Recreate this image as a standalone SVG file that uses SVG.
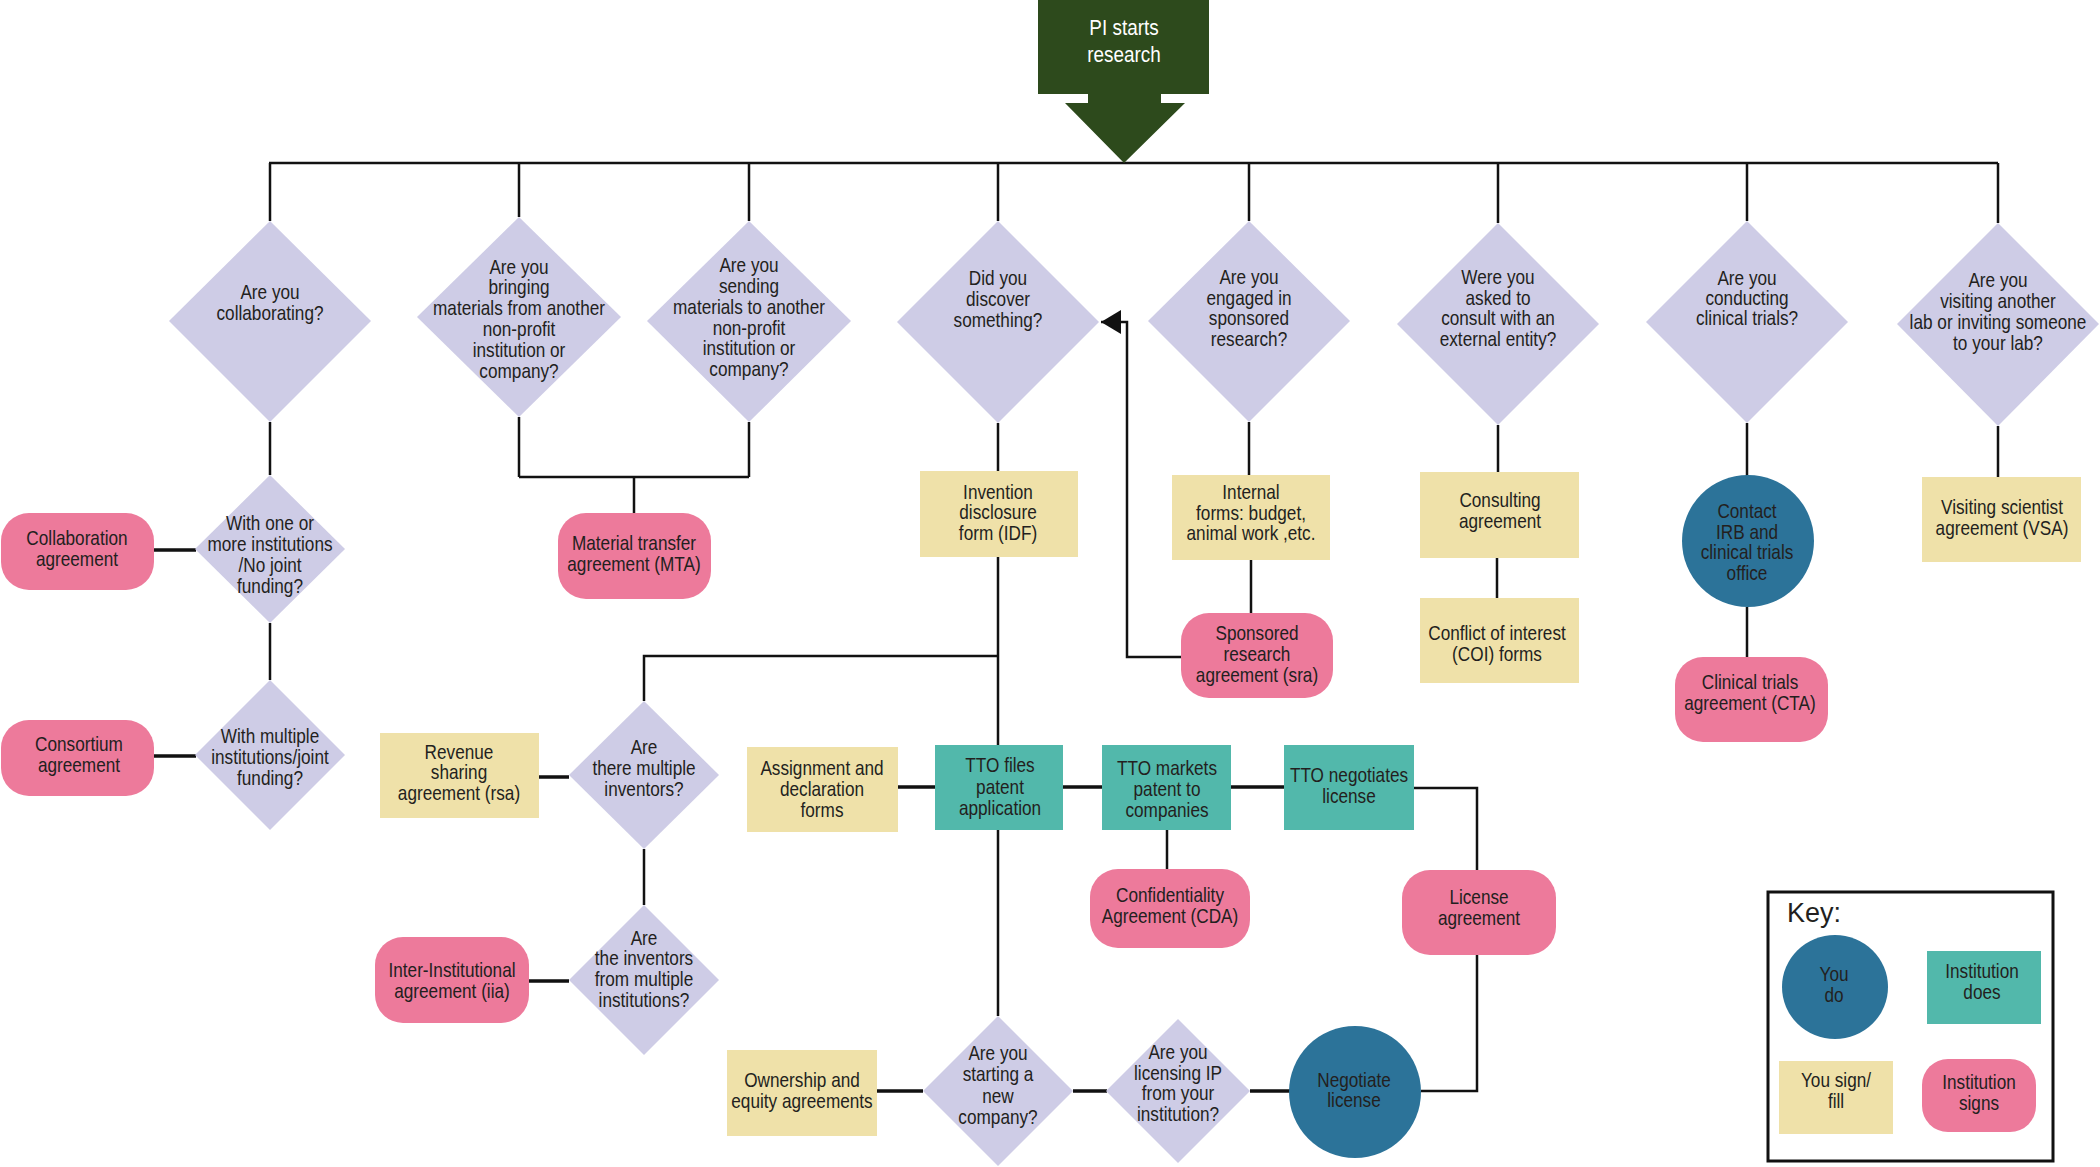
<svg xmlns="http://www.w3.org/2000/svg" width="2100" height="1167" viewBox="0 0 2100 1167">
<style>
text{font-family:"Liberation Sans",Arial,sans-serif;font-size:20px;fill:#231f20;text-anchor:middle}
.q{fill:#cecce6}
.p{fill:#ed7a9b}
.b{fill:#efe1a9}
.t{fill:#52b8ab}
.c{fill:#2c7399}
.ln{stroke:#111;stroke-width:2.5;fill:none}
.sh{stroke:#111;stroke-width:3.5;fill:none}
.w{fill:#fff;font-size:22px}
</style>
<defs>
<marker id="ah" markerUnits="userSpaceOnUse" markerWidth="22" markerHeight="24" refX="20" refY="12" orient="auto">
<path d="M0,0 L20,12 L0,24 Z" fill="#111"/>
</marker>
</defs>

<g id="connectors">
<path class="ln" d="M269,163 H1998"/>
<path class="ln" d="M270,163 V221 M519,163 V217 M749,163 V221 M998,163 V221 M1249,163 V221 M1498,163 V223 M1747,163 V221 M1998,163 V223"/>
<path class="ln" d="M270,422 V475 M270,623 V680"/>
<path class="sh" d="M154,550 H196 M154,756 H196"/>
<path class="ln" d="M519,417 V477 M749,422 V477 M519,477 H749 M634,477 V513"/>
<path class="ln" d="M998,423 V471 M998,557 V1016 M998,656 H644 V701 M644,849 V905"/>
<path class="sh" d="M539,777 H569 M529,981 H569 M898,787 H935 M1063,787 H1102 M1231,787 H1284 M877,1091 H923 M1073,1091 H1107 M1250,1091 H1290"/>
<path class="ln" d="M1414,788 H1477 V870 M1477,955 V1091 H1421 M1167,830 V869"/>
<path class="ln" d="M1249,422 V475 M1251,560 V613"/>
<path class="ln" d="M1181,657 H1127 V322 H1101" marker-end="url(#ah)"/>
<path class="ln" d="M1498,425 V472 M1497,558 V598 M1747,423 V476 M1747,607 V657 M1998,426 V477"/>
</g>

<g id="n_pi">
<rect x="1038" y="0" width="171" height="94" fill="#2d4a1c"/>
<polygon points="1088,93 1161,93 1161,103 1185,103 1124,163 1065,103 1088,103" fill="#2d4a1c"/>
<text class="w" transform="translate(1124 0) scale(.86 1)"><tspan x="0" y="35">PI  starts</tspan><tspan x="0" y="62">research</tspan></text>
</g>

<g id="d_collab"><polygon class="q" points="270,221 371,321 270,422 169,321"/>
<text transform="translate(270 0) scale(.86 1)"><tspan x="0" y="299">Are you</tspan><tspan x="0" y="320">collaborating?</tspan></text></g>

<g id="d_bring"><polygon class="q" points="519,217 621,317 519,417 417,317"/>
<text transform="translate(519 0) scale(.86 1)"><tspan x="0" y="274">Are you</tspan><tspan x="0" y="294">bringing</tspan><tspan x="0" y="315">materials from another</tspan><tspan x="0" y="336">non-profit</tspan><tspan x="0" y="357">institution or</tspan><tspan x="0" y="378">company?</tspan></text></g>

<g id="d_send"><polygon class="q" points="749,221 851,321 749,422 647,321"/>
<text transform="translate(749 0) scale(.86 1)"><tspan x="0" y="272">Are you</tspan><tspan x="0" y="293">sending</tspan><tspan x="0" y="314">materials to another</tspan><tspan x="0" y="335">non-profit</tspan><tspan x="0" y="355">institution or</tspan><tspan x="0" y="376">company?</tspan></text></g>

<g id="d_discover"><polygon class="q" points="998,221 1099,322 998,423 897,322"/>
<text transform="translate(998 0) scale(.86 1)"><tspan x="0" y="285">Did you</tspan><tspan x="0" y="306">discover</tspan><tspan x="0" y="327">something?</tspan></text></g>

<g id="d_sponsored"><polygon class="q" points="1249,221 1350,321 1249,422 1148,321"/>
<text transform="translate(1249 0) scale(.86 1)"><tspan x="0" y="284">Are you</tspan><tspan x="0" y="305">engaged in</tspan><tspan x="0" y="325">sponsored</tspan><tspan x="0" y="346">research?</tspan></text></g>

<g id="d_consult"><polygon class="q" points="1498,223 1599,324 1498,425 1397,324"/>
<text transform="translate(1498 0) scale(.86 1)"><tspan x="0" y="284">Were you</tspan><tspan x="0" y="305">asked to</tspan><tspan x="0" y="325">consult with an</tspan><tspan x="0" y="346">external entity?</tspan></text></g>

<g id="d_clinical"><polygon class="q" points="1747,221 1848,322 1747,423 1646,322"/>
<text transform="translate(1747 0) scale(.86 1)"><tspan x="0" y="285">Are you</tspan><tspan x="0" y="305">conducting</tspan><tspan x="0" y="325">clinical trials?</tspan></text></g>

<g id="d_visiting"><polygon class="q" points="1998,223 2099,324 1998,426 1897,324"/>
<text transform="translate(1998 0) scale(.86 1)"><tspan x="0" y="287">Are you</tspan><tspan x="0" y="308">visiting another</tspan><tspan x="0" y="329">lab or inviting someone</tspan><tspan x="0" y="350">to your lab?</tspan></text></g>

<g id="d_oneormore"><polygon class="q" points="270,475 345,549 270,623 195,549"/>
<text transform="translate(270 0) scale(.86 1)"><tspan x="0" y="530">With one or</tspan><tspan x="0" y="551">more institutions</tspan><tspan x="0" y="572">/No joint</tspan><tspan x="0" y="593">funding?</tspan></text></g>

<g id="d_multiple"><polygon class="q" points="270,680 345,755 270,830 195,755"/>
<text transform="translate(270 0) scale(.86 1)"><tspan x="0" y="743">With multiple</tspan><tspan x="0" y="764">institutions/joint</tspan><tspan x="0" y="785">funding?</tspan></text></g>

<g id="n_collab"><rect class="p" x="1" y="513" width="153" height="77" rx="28"/>
<text transform="translate(77 0) scale(.86 1)"><tspan x="0" y="545">Collaboration</tspan><tspan x="0" y="566">agreement</tspan></text></g>

<g id="n_consortium"><rect class="p" x="1" y="720" width="153" height="76" rx="28"/>
<text transform="translate(79 0) scale(.86 1)"><tspan x="0" y="751">Consortium</tspan><tspan x="0" y="772">agreement</tspan></text></g>

<g id="n_mta"><rect class="p" x="558" y="513" width="153" height="86" rx="28"/>
<text transform="translate(634 0) scale(.86 1)"><tspan x="0" y="550">Material transfer</tspan><tspan x="0" y="571">agreement (MTA)</tspan></text></g>

<g id="n_idf"><rect class="b" x="920" y="471" width="158" height="86"/>
<text transform="translate(998 0) scale(.86 1)"><tspan x="0" y="499">Invention</tspan><tspan x="0" y="519">disclosure</tspan><tspan x="0" y="540">form (IDF)</tspan></text></g>

<g id="d_inventors"><polygon class="q" points="644,701 719,775 644,849 569,775"/>
<text transform="translate(644 0) scale(.86 1)"><tspan x="0" y="754">Are</tspan><tspan x="0" y="775">there multiple</tspan><tspan x="0" y="796">inventors?</tspan></text></g>

<g id="n_rsa"><rect class="b" x="380" y="733" width="159" height="85"/>
<text transform="translate(459 0) scale(.86 1)"><tspan x="0" y="759">Revenue</tspan><tspan x="0" y="779">sharing</tspan><tspan x="0" y="800">agreement (rsa)</tspan></text></g>

<g id="d_instinv"><polygon class="q" points="644,905 719,980 644,1055 569,980"/>
<text transform="translate(644 0) scale(.86 1)"><tspan x="0" y="945">Are</tspan><tspan x="0" y="965">the inventors</tspan><tspan x="0" y="986">from multiple</tspan><tspan x="0" y="1007">institutions?</tspan></text></g>

<g id="n_iia"><rect class="p" x="375" y="937" width="154" height="86" rx="28"/>
<text transform="translate(452 0) scale(.86 1)"><tspan x="0" y="977">Inter-Institutional</tspan><tspan x="0" y="998">agreement (iia)</tspan></text></g>

<g id="n_assign"><rect class="b" x="747" y="747" width="151" height="85"/>
<text transform="translate(822 0) scale(.86 1)"><tspan x="0" y="775">Assignment and</tspan><tspan x="0" y="796">declaration</tspan><tspan x="0" y="817">forms</tspan></text></g>

<g id="n_ttofiles"><rect class="t" x="935" y="745" width="128" height="85"/>
<text transform="translate(1000 0) scale(.86 1)"><tspan x="0" y="772">TTO files</tspan><tspan x="0" y="794">patent</tspan><tspan x="0" y="815">application</tspan></text></g>

<g id="n_ttomarkets"><rect class="t" x="1102" y="745" width="129" height="85"/>
<text transform="translate(1167 0) scale(.86 1)"><tspan x="0" y="775">TTO markets</tspan><tspan x="0" y="796">patent to</tspan><tspan x="0" y="817">companies</tspan></text></g>

<g id="n_ttoneg"><rect class="t" x="1284" y="745" width="130" height="85"/>
<text transform="translate(1349 0) scale(.86 1)"><tspan x="0" y="782">TTO negotiates</tspan><tspan x="0" y="803">license</tspan></text></g>

<g id="n_cda"><rect class="p" x="1090" y="869" width="160" height="79" rx="28"/>
<text transform="translate(1170 0) scale(.86 1)"><tspan x="0" y="902">Confidentiality</tspan><tspan x="0" y="923">Agreement (CDA)</tspan></text></g>

<g id="n_license"><rect class="p" x="1402" y="870" width="154" height="85" rx="28"/>
<text transform="translate(1479 0) scale(.86 1)"><tspan x="0" y="904">License</tspan><tspan x="0" y="925">agreement</tspan></text></g>

<g id="n_owner"><rect class="b" x="727" y="1050" width="150" height="86"/>
<text transform="translate(802 0) scale(.86 1)"><tspan x="0" y="1087">Ownership and</tspan><tspan x="0" y="1108">equity agreements</tspan></text></g>

<g id="d_start"><polygon class="q" points="998,1016 1073,1091 998,1166 923,1091"/>
<text transform="translate(998 0) scale(.86 1)"><tspan x="0" y="1060">Are you</tspan><tspan x="0" y="1081">starting a</tspan><tspan x="0" y="1103">new</tspan><tspan x="0" y="1124">company?</tspan></text></g>

<g id="d_licensing"><polygon class="q" points="1178,1019 1250,1091 1178,1163 1106,1091"/>
<text transform="translate(1178 0) scale(.86 1)"><tspan x="0" y="1059">Are you</tspan><tspan x="0" y="1080">licensing IP</tspan><tspan x="0" y="1100">from your</tspan><tspan x="0" y="1121">institution?</tspan></text></g>

<g id="n_negotiate"><ellipse class="c" cx="1355" cy="1092" rx="66" ry="66"/>
<text transform="translate(1354 0) scale(.86 1)"><tspan x="0" y="1087">Negotiate</tspan><tspan x="0" y="1107">license</tspan></text></g>

<g id="n_internal"><rect class="b" x="1172" y="475" width="158" height="85"/>
<text transform="translate(1251 0) scale(.86 1)"><tspan x="0" y="499">Internal</tspan><tspan x="0" y="520">forms: budget,</tspan><tspan x="0" y="540">animal work ,etc.</tspan></text></g>

<g id="n_sra"><rect class="p" x="1181" y="613" width="152" height="85" rx="28"/>
<text transform="translate(1257 0) scale(.86 1)"><tspan x="0" y="640">Sponsored</tspan><tspan x="0" y="661">research</tspan><tspan x="0" y="682">agreement (sra)</tspan></text></g>

<g id="n_consulting"><rect class="b" x="1420" y="472" width="159" height="86"/>
<text transform="translate(1500 0) scale(.86 1)"><tspan x="0" y="507">Consulting</tspan><tspan x="0" y="528">agreement</tspan></text></g>

<g id="n_coi"><rect class="b" x="1420" y="598" width="159" height="85"/>
<text transform="translate(1497 0) scale(.86 1)"><tspan x="0" y="640">Conflict of interest</tspan><tspan x="0" y="661">(COI) forms</tspan></text></g>

<g id="n_irb"><ellipse class="c" cx="1748" cy="541" rx="66" ry="66"/>
<text transform="translate(1747 0) scale(.86 1)"><tspan x="0" y="518">Contact</tspan><tspan x="0" y="539">IRB and</tspan><tspan x="0" y="559">clinical trials</tspan><tspan x="0" y="580">office</tspan></text></g>

<g id="n_cta"><rect class="p" x="1675" y="657" width="153" height="85" rx="28"/>
<text transform="translate(1750 0) scale(.86 1)"><tspan x="0" y="689">Clinical trials</tspan><tspan x="0" y="710">agreement (CTA)</tspan></text></g>

<g id="n_vsa"><rect class="b" x="1922" y="477" width="159" height="85"/>
<text transform="translate(2002 0) scale(.86 1)"><tspan x="0" y="514">Visiting scientist</tspan><tspan x="0" y="535">agreement (VSA)</tspan></text></g>

<g id="key">
<rect x="1768" y="892" width="285" height="269" fill="none" stroke="#111" stroke-width="3"/>
<text x="1787" y="922" style="text-anchor:start;font-size:27px">Key:</text>
<ellipse class="c" cx="1835" cy="987" rx="53" ry="52"/>
<text transform="translate(1834 0) scale(.86 1)"><tspan x="0" y="981">You</tspan><tspan x="0" y="1002">do</tspan></text>
<rect class="t" x="1927" y="951" width="114" height="73"/>
<text transform="translate(1982 0) scale(.86 1)"><tspan x="0" y="978">Institution</tspan><tspan x="0" y="999">does</tspan></text>
<rect class="b" x="1779" y="1061" width="114" height="73"/>
<text transform="translate(1836 0) scale(.86 1)"><tspan x="0" y="1087">You sign/</tspan><tspan x="0" y="1108">fill</tspan></text>
<rect class="p" x="1922" y="1059" width="114" height="73" rx="26"/>
<text transform="translate(1979 0) scale(.86 1)"><tspan x="0" y="1089">Institution</tspan><tspan x="0" y="1110">signs</tspan></text>
</g>
</svg>
